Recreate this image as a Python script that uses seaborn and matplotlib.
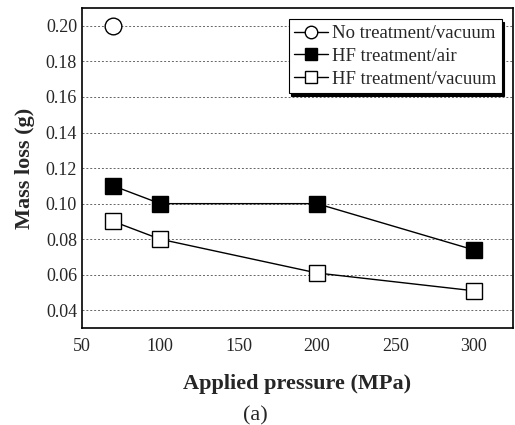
import matplotlib
matplotlib.use("Agg")
import matplotlib.pyplot as plt
import seaborn as sns
import pandas as pd
from matplotlib.ticker import MultipleLocator

sns.set_style("white")
plt.rcParams['font.family'] = ['Liberation Serif', 'DejaVu Serif']

no_treat_x = [70]
no_treat_y = [0.200]
hf_air_x = [70, 100, 200, 300]
hf_air_y = [0.110, 0.100, 0.100, 0.074]
hf_vac_x = [70, 100, 200, 300]
hf_vac_y = [0.090, 0.080, 0.061, 0.051]
y_ticks = [0.04, 0.06, 0.08, 0.10, 0.12, 0.14, 0.16, 0.18, 0.20]

series = [
    ("No treatment/vacuum", no_treat_x, no_treat_y, "o", "white"),
    ("HF treatment/air", hf_air_x, hf_air_y, "s", "black"),
    ("HF treatment/vacuum", hf_vac_x, hf_vac_y, "s", "white"),
]

fig = plt.figure(figsize=(5.15, 4.25), dpi=100)
ax = fig.add_axes([0.159, 0.228, 0.837, 0.753])

for label, xs, ys, mk, fc in series:
    df = pd.DataFrame({"x": xs, "y": ys})
    sns.lineplot(data=df, x="x", y="y", ax=ax, color="black", lw=1.0,
                 marker=mk, markersize=12 if mk == "o" else 11,
                 markerfacecolor=fc, markeredgecolor="black", markeredgewidth=1.0,
                 label=label)

ax.set_xlim(50, 325)
ax.set_ylim(0.03, 0.21)
ax.xaxis.set_major_locator(MultipleLocator(50))
ax.xaxis.set_minor_locator(MultipleLocator(25))
ax.yaxis.set_minor_locator(MultipleLocator(0.01))
ax.set_yticks(y_ticks)
ax.set_yticklabels([f"{v:.2f}" for v in y_ticks])
ax.tick_params(which="both", direction="in", top=False, right=False, labelsize=13)
ax.tick_params(axis="x", which="major", pad=7)
ax.tick_params(which="major", length=4, width=1)
ax.tick_params(which="minor", length=2.5, width=1)
ax.grid(axis="y", which="major", linestyle=(0, (2, 2)), color="#666666", lw=0.7)
for s in ax.spines.values():
    s.set_color("black")
    s.set_linewidth(1.2)

ax.set_xlabel("Applied pressure (MPa)", fontsize=16, fontweight="bold", labelpad=14)
ax.set_ylabel("Mass loss (g)", fontsize=16, fontweight="bold", labelpad=8)

leg = ax.legend(loc="upper right", fontsize=13.5, frameon=True, shadow={"color": "black", "alpha": 1},
                fancybox=False, handlelength=1.8, handletextpad=0.2, borderpad=0.3,
                labelspacing=0.3, borderaxespad=0.6)
leg.get_frame().set_edgecolor("black")
leg.get_frame().set_linewidth(0.8)
for h in leg.legend_handles:
    h.set_markersize(9)

fig.text(0.495, 0.022, "(a)", ha="center", va="center", fontsize=16)

fig.savefig("out.png", dpi=100)
